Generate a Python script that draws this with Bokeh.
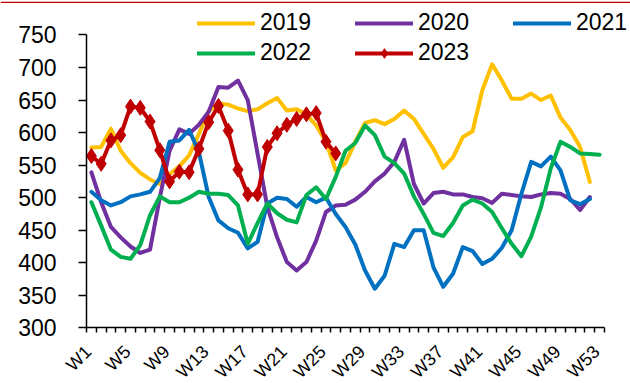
import math
from bokeh.plotting import figure
from bokeh.models import Legend, LegendItem, FixedTicker, Range1d, Span
from bokeh.core.properties import value
from bokeh.embed import file_html
from bokeh.resources import INLINE

# ---- data ----
weeks = list(range(1, 54))  # W1 .. W53 (category ordinals)
tick_weeks = [1, 5, 9, 13, 17, 21, 25, 29, 33, 37, 41, 45, 49, 53]
tick_labels = ["W1", "W5", "W9", "W13", "W17", "W21", "W25", "W29", "W33",
               "W37", "W41", "W45", "W49", "W53"]
y_ticks = [300, 350, 400, 450, 500, 550, 600, 650, 700, 750]

y2019 = [577, 578, 606, 572, 553, 538, 528, 521, 536, 548, 565, 598, 633, 645,
         643, 637, 633, 636, 645, 653, 634, 636, 628, 611, 586, 542, 553, 586,
         615, 619, 613, 621, 634, 621, 598, 575, 546, 562, 593, 602, 665, 705,
         680, 652, 652, 660, 650, 657, 623, 604, 578, 524]
y2020 = [539, 493, 455, 439, 425, 415, 420, 500, 572, 605, 598, 612, 632, 670,
         669, 680, 650, 568, 486, 439, 401, 388, 401, 434, 478, 488, 489, 497,
         509, 525, 537, 555, 589, 521, 491, 507, 509, 505, 505, 501, 499, 492,
         506, 504, 502, 501, 505, 507, 506, 498, 481, 501]
y2021 = [509, 496, 488, 493, 502, 505, 509, 530, 586, 588, 604, 570, 501, 465,
         453, 446, 422, 432, 491, 500, 498, 486, 501, 493, 500, 475, 455, 428,
         388, 360, 380, 429, 424, 450, 450, 393, 363, 383, 424, 418, 398, 406,
         423, 450, 506, 555, 548, 563, 542, 496, 490, 498]
y2022 = [493, 457, 420, 409, 406, 427, 473, 502, 493, 493, 500, 509, 506, 506,
         504, 488, 429, 461, 491, 476, 466, 462, 504, 516, 498, 532, 572, 584,
         611, 596, 563, 553, 537, 502, 475, 446, 441, 461, 488, 497, 491, 478,
         453, 429, 410, 440, 485, 545, 586, 578, 568, 567, 566]
y2023 = [564, 552, 588, 596, 640, 638, 617, 573, 525, 540, 539, 575, 616, 641,
         603, 543, 505, 505, 578, 599, 612, 621, 628, 630, 586, 568]

series = [
    ("2019", y2019, "#FFC000"),
    ("2020", y2020, "#7030A0"),
    ("2021", y2021, "#0070C0"),
    ("2022", y2022, "#00B050"),
    ("2023", y2023, "#C00000"),
]

FONT = "Liberation Sans"

# The frame covers the whole canvas; axes are drawn at fixed locations and
# bounded to the data area (weeks 0.5..53.5, values 300..750).
x_lo, x_hi = weeks[0] - 0.5, weeks[-1] + 0.5
p = figure(width=630, height=383, output_backend="svg", toolbar_location=None,
           x_range=Range1d(-8.30, 56.16), y_range=Range1d(214.4, 803.0),
           min_border_left=0, min_border_right=0, min_border_top=0,
           min_border_bottom=0)
p.outline_line_color = None
p.grid.visible = False
p.background_fill_color = "white"
p.border_fill_color = "white"

# thin red rule across the top
p.add_layout(Span(location=800, dimension="width", line_color="#C00000",
                  line_width=1.2))

renderers = {}
for name, ys, col in series:
    xs = weeks[:len(ys)]
    r = p.line(xs, ys, line_color=col, line_width=4, line_join="round",
               line_cap="round")
    rs = [r]
    if name == "2023":
        m = p.scatter(xs, ys, marker="diamond", size=15, fill_color=col,
                      line_color=col)
        rs.append(m)
    renderers[name] = rs

# y axis
ya = p.yaxis[0]
ya.fixed_location = x_lo
ya.ticker = FixedTicker(ticks=y_ticks)
ya.bounds = (y_ticks[0], y_ticks[-1])
ya.axis_line_color = "black"
ya.axis_line_width = 1.5
ya.major_tick_out = 8
ya.major_tick_in = 0
ya.major_tick_line_color = "black"
ya.major_tick_line_width = 1.5
ya.minor_tick_line_color = None
ya.major_label_text_font = FONT
ya.major_label_text_font_size = "23px"
ya.major_label_text_color = "black"
ya.major_label_standoff = 22

# x axis drawn at y = 300
xa = p.xaxis[0]
xa.fixed_location = y_ticks[0]
xa.bounds = (x_lo, x_hi)
xa.ticker = FixedTicker(ticks=tick_weeks,
                        minor_ticks=[w - 0.5 for w in weeks] + [x_hi])
xa.major_label_text_alpha = 0
xa.axis_line_color = "black"
xa.axis_line_width = 1.5
xa.major_tick_out = 0
xa.major_tick_in = 0
xa.minor_tick_out = 5
xa.minor_tick_in = 0
xa.minor_tick_line_color = "black"
xa.minor_tick_line_width = 1.5

# rotated week labels
p.text(x=tick_weeks, y=[y_ticks[0]] * len(tick_weeks), text=tick_labels,
       angle=math.pi / 4, text_align="right", text_baseline="middle",
       x_offset=-3, y_offset=21, text_font=value(FONT),
       text_font_size="18px", text_color="black")

def make_legend(names, loc):
    items = [LegendItem(label=n, renderers=renderers[n]) for n in names]
    leg = Legend(items=items, orientation="horizontal", location=loc,
                 glyph_width=58, glyph_height=24, label_height=24,
                 label_width=95, label_standoff=5, spacing=0, padding=0,
                 margin=0, border_line_color=None, background_fill_alpha=0,
                 label_text_font=FONT, label_text_font_size="23px",
                 label_text_color="black")
    return leg

p.add_layout(make_legend(["2019", "2020", "2021"], (197, 347)))
p.add_layout(make_legend(["2022", "2023"], (197, 317)))

open("out.html", "w").write(file_html(p, INLINE))
